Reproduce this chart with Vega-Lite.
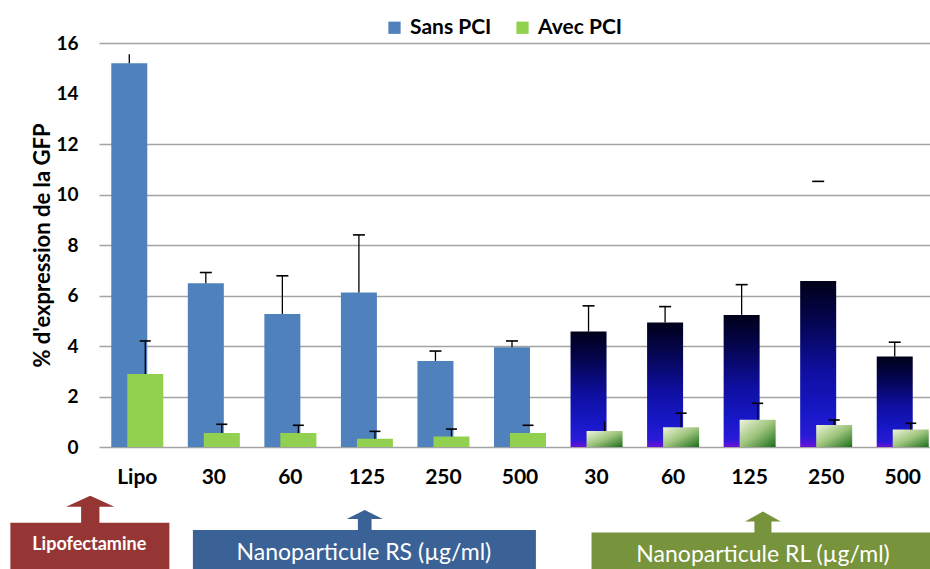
{
  "$schema": "https://vega.github.io/schema/vega-lite/v6.json",
  "width": 830,
  "height": 404,
  "autosize": {"type": "none"},
  "padding": {"left": 100, "top": 43, "right": 0, "bottom": 122},
  "background": "white",
  "config": {"view": {"stroke": null}, "font": "Lato"},
  "datasets": {
    "bars": [
      {"cat": "Lipo", "group": "Lipo", "series": "Sans PCI", "value": 15.2, "err": 15.55},
      {"cat": "RS-30", "group": "RS", "series": "Sans PCI", "value": 6.49, "err": 6.91},
      {"cat": "RS-60", "group": "RS", "series": "Sans PCI", "value": 5.27, "err": 6.78},
      {"cat": "RS-125", "group": "RS", "series": "Sans PCI", "value": 6.12, "err": 8.4},
      {"cat": "RS-250", "group": "RS", "series": "Sans PCI", "value": 3.41, "err": 3.8},
      {"cat": "RS-500", "group": "RS", "series": "Sans PCI", "value": 3.95, "err": 4.2},
      {"cat": "RL-30", "group": "RL", "series": "Sans PCI", "value": 4.57, "err": 5.59},
      {"cat": "RL-60", "group": "RL", "series": "Sans PCI", "value": 4.93, "err": 5.56},
      {"cat": "RL-125", "group": "RL", "series": "Sans PCI", "value": 5.23, "err": 6.43},
      {"cat": "RL-250", "group": "RL", "series": "Sans PCI", "value": 6.57, "err": 10.52},
      {"cat": "RL-500", "group": "RL", "series": "Sans PCI", "value": 3.58, "err": 4.15},
      {"cat": "Lipo", "group": "Lipo", "series": "Avec PCI", "value": 2.89, "err": 4.2},
      {"cat": "RS-30", "group": "RS", "series": "Avec PCI", "value": 0.55, "err": 0.9},
      {"cat": "RS-60", "group": "RS", "series": "Avec PCI", "value": 0.55, "err": 0.86},
      {"cat": "RS-125", "group": "RS", "series": "Avec PCI", "value": 0.33, "err": 0.62},
      {"cat": "RS-250", "group": "RS", "series": "Avec PCI", "value": 0.42, "err": 0.71},
      {"cat": "RS-500", "group": "RS", "series": "Avec PCI", "value": 0.55, "err": 0.86},
      {"cat": "RL-30", "group": "RL", "series": "Avec PCI", "value": 0.63, "err": 1.0},
      {"cat": "RL-60", "group": "RL", "series": "Avec PCI", "value": 0.78, "err": 1.34},
      {"cat": "RL-125", "group": "RL", "series": "Avec PCI", "value": 1.08, "err": 1.73},
      {"cat": "RL-250", "group": "RL", "series": "Avec PCI", "value": 0.87, "err": 1.07},
      {"cat": "RL-500", "group": "RL", "series": "Avec PCI", "value": 0.69, "err": 0.94}
    ],
    "annot": [
      {"cat": "Lipo", "label": "Lipofectamine"},
      {"cat": "RS-125", "label": "Nanoparticule RS (µg/ml)"},
      {"cat": "RL-125", "label": "Nanoparticule RL (µg/ml)"}
    ]
  },
  "encoding": {
    "x": {
      "field": "cat",
      "type": "nominal",
      "scale": {
        "domain": ["Lipo", "RS-30", "RS-60", "RS-125", "RS-250", "RS-500", "RL-30", "RL-60", "RL-125", "RL-250", "RL-500"],
        "range": [-1, 841],
        "paddingInner": 0,
        "paddingOuter": 0
      },
      "axis": {
        "title": null,
        "labelExpr": "slice(datum.label, indexof(datum.label, '-') + 1)",
        "labelAngle": 0,
        "domain": false,
        "ticks": false,
        "grid": false,
        "labelPadding": 19,
        "labelFont": "Lato",
        "labelFontWeight": "bold",
        "labelFontSize": 21,
        "labelColor": "#000000"
      }
    }
  },
  "layer": [
    {
      "data": {"name": "bars"},
      "transform": [{"filter": "datum.series === 'Sans PCI' && datum.group !== 'RL'"}],
      "mark": {"type": "bar", "width": 36, "xOffset": -8},
      "encoding": {
        "y": {
          "field": "value",
          "type": "quantitative",
          "scale": {"domain": [0, 16], "nice": false, "zero": true},
          "axis": {
            "title": "% d'expression de la GFP",
            "values": [0, 2, 4, 6, 8, 10, 12, 14, 16],
            "grid": true,
            "gridColor": "#a3a3a3",
            "gridWidth": 1.5,
            "gridOpacity": {"condition": {"test": "datum.value === 14", "value": 0}, "value": 1},
            "domain": false,
            "ticks": false,
            "labelPadding": 22,
            "labelFont": "Lato",
            "labelFontWeight": "bold",
            "labelFontSize": 19,
            "labelColor": "#000000",
            "titleFont": "Lato",
            "titleFontSize": 22,
            "titleFontWeight": "bold",
            "titleColor": "#000000",
            "titlePadding": 1
          }
        },
        "color": {
          "field": "series",
          "type": "nominal",
          "scale": {"domain": ["Sans PCI", "Avec PCI"], "range": ["#4F81BD", "#92D050"]},
          "legend": {
            "orient": "none",
            "legendX": 284,
            "legendY": -26,
            "direction": "horizontal",
            "title": null,
            "symbolType": "square",
            "symbolSize": 150,
            "symbolStrokeWidth": 0,
            "labelFont": "Lato",
            "labelFontWeight": "bold",
            "labelFontSize": 21,
            "labelColor": "#000000",
            "labelOffset": 5,
            "columnPadding": 20,
            "padding": 0
          }
        }
      }
    },
    {
      "data": {"name": "bars"},
      "transform": [{"filter": "datum.series === 'Sans PCI' && datum.group === 'RL'"}],
      "mark": {
        "type": "bar",
        "width": 36,
        "xOffset": -8,
        "color": {
          "gradient": "linear",
          "x1": 0, "y1": 0, "x2": 0, "y2": 1,
          "stops": [
            {"offset": 0, "color": "#00001a"},
            {"offset": 0.25, "color": "#050552"},
            {"offset": 0.55, "color": "#0f0fa2"},
            {"offset": 0.8, "color": "#1818c8"},
            {"offset": 0.94, "color": "#2a1ad8"},
            {"offset": 1, "color": "#6a12d6"}
          ]
        }
      },
      "encoding": {"y": {"field": "value", "type": "quantitative"}}
    },
    {
      "data": {"name": "bars"},
      "transform": [{"filter": "datum.series === 'Sans PCI' && datum.cat !== 'RL-250'"}],
      "mark": {"type": "rule", "xOffset": -8, "color": "#000000", "strokeWidth": 1.3},
      "encoding": {
        "y": {"field": "value", "type": "quantitative"},
        "y2": {"field": "err"}
      }
    },
    {
      "data": {"name": "bars"},
      "transform": [{"filter": "datum.series === 'Sans PCI' && datum.cat !== 'Lipo'"}],
      "mark": {"type": "tick", "xOffset": -8, "color": "#000000", "thickness": 1.6, "size": 12, "opacity": 1},
      "encoding": {"y": {"field": "err", "type": "quantitative"}}
    },
    {
      "data": {"name": "bars"},
      "transform": [{"filter": "datum.series === 'Avec PCI' && datum.group !== 'RL'"}],
      "mark": {"type": "bar", "width": 36, "xOffset": 8},
      "encoding": {
        "y": {"field": "value", "type": "quantitative"},
        "color": {"field": "series", "type": "nominal"}
      }
    },
    {
      "data": {"name": "bars"},
      "transform": [{"filter": "datum.series === 'Avec PCI' && datum.group === 'RL'"}],
      "mark": {
        "type": "bar",
        "width": 36,
        "xOffset": 8,
        "color": {
          "gradient": "linear",
          "x1": 0, "y1": 0, "x2": 1, "y2": 1,
          "stops": [
            {"offset": 0, "color": "#eef4dc"},
            {"offset": 0.5, "color": "#9ec47c"},
            {"offset": 1, "color": "#1b6e1b"}
          ]
        }
      },
      "encoding": {"y": {"field": "value", "type": "quantitative"}}
    },
    {
      "data": {"name": "bars"},
      "transform": [{"filter": "datum.series === 'Avec PCI' && datum.cat !== 'RS-500'"}],
      "mark": {"type": "rule", "xOffset": 8, "color": "#000000", "strokeWidth": 1.3},
      "encoding": {
        "y": {"field": "value", "type": "quantitative"},
        "y2": {"field": "err"}
      }
    },
    {
      "data": {"name": "bars"},
      "transform": [{"filter": "datum.series === 'Avec PCI' && datum.cat !== 'RL-30'"}],
      "mark": {"type": "tick", "xOffset": 8, "color": "#000000", "thickness": 1.6, "size": 11, "opacity": 1},
      "encoding": {"y": {"field": "err", "type": "quantitative"}}
    },
    {
      "data": {"name": "annot"},
      "transform": [{"filter": "datum.label === 'Lipofectamine'"}],
      "mark": {
        "type": "point",
        "shape": "M0,-0.63L1,-0.175L0.379,-0.175L0.379,0.625L-0.379,0.625L-0.379,-0.175L-1,-0.175Z",
        "size": 2333,
        "filled": true,
        "opacity": 1,
        "strokeWidth": 0,
        "color": "#963634",
        "xOffset": -47
      },
      "encoding": {"y": {"datum": -2.53, "type": "quantitative"}}
    },
    {
      "data": {"name": "annot"},
      "transform": [{"filter": "datum.label === 'Nanoparticule RS (µg/ml)'"}],
      "mark": {
        "type": "point",
        "shape": "M0,-0.64L1,-0.14L0.38,-0.14L0.38,0.64L-0.38,0.64L-0.38,-0.14L-1,-0.14Z",
        "size": 1296,
        "filled": true,
        "opacity": 1,
        "strokeWidth": 0,
        "color": "#3B6296",
        "xOffset": -2.2
      },
      "encoding": {"y": {"datum": -2.95, "type": "quantitative"}}
    },
    {
      "data": {"name": "annot"},
      "transform": [{"filter": "datum.label === 'Nanoparticule RL (µg/ml)'"}],
      "mark": {
        "type": "point",
        "shape": "M0,-0.68L1,-0.12L0.476,-0.12L0.476,0.68L-0.476,0.68L-0.476,-0.12L-1,-0.12Z",
        "size": 1274,
        "filled": true,
        "opacity": 1,
        "strokeWidth": 0,
        "color": "#77933C",
        "xOffset": 13.3
      },
      "encoding": {"y": {"datum": -3.04, "type": "quantitative"}}
    },
    {
      "data": {"name": "annot"},
      "transform": [{"filter": "datum.label === 'Lipofectamine'"}],
      "mark": {"type": "bar", "width": 159, "xOffset": -47.4, "color": "#963634"},
      "encoding": {
        "y": {"datum": -3.0, "type": "quantitative"},
        "y2": {"datum": -6}
      }
    },
    {
      "data": {"name": "annot"},
      "transform": [{"filter": "datum.label === 'Nanoparticule RS (µg/ml)'"}],
      "mark": {"type": "bar", "width": 343, "xOffset": -2.5, "color": "#3B6296"},
      "encoding": {
        "y": {"datum": -3.29, "type": "quantitative"},
        "y2": {"datum": -6}
      }
    },
    {
      "data": {"name": "annot"},
      "transform": [{"filter": "datum.label === 'Nanoparticule RL (µg/ml)'"}],
      "mark": {"type": "bar", "width": 343, "xOffset": 13.4, "color": "#77933C"},
      "encoding": {
        "y": {"datum": -3.39, "type": "quantitative"},
        "y2": {"datum": -6}
      }
    },
    {
      "data": {"name": "annot"},
      "transform": [{"filter": "datum.label === 'Lipofectamine'"}],
      "mark": {"type": "text", "font": "Lato", "fontWeight": "bold", "fontSize": 18, "color": "#ffffff", "align": "center", "baseline": "alphabetic", "xOffset": -48},
      "encoding": {
        "y": {"datum": -4.08, "type": "quantitative"},
        "text": {"field": "label"}
      }
    },
    {
      "data": {"name": "annot"},
      "transform": [{"filter": "datum.label === 'Nanoparticule RS (µg/ml)'"}],
      "mark": {"type": "text", "font": "Lato", "fontSize": 23, "color": "#ffffff", "align": "center", "baseline": "alphabetic", "xOffset": -3},
      "encoding": {
        "y": {"datum": -4.475, "type": "quantitative"},
        "text": {"field": "label"}
      }
    },
    {
      "data": {"name": "annot"},
      "transform": [{"filter": "datum.label === 'Nanoparticule RL (µg/ml)'"}],
      "mark": {"type": "text", "font": "Lato", "fontSize": 23, "color": "#ffffff", "align": "center", "baseline": "alphabetic", "xOffset": 13.4},
      "encoding": {
        "y": {"datum": -4.54, "type": "quantitative"},
        "text": {"field": "label"}
      }
    }
  ]
}
